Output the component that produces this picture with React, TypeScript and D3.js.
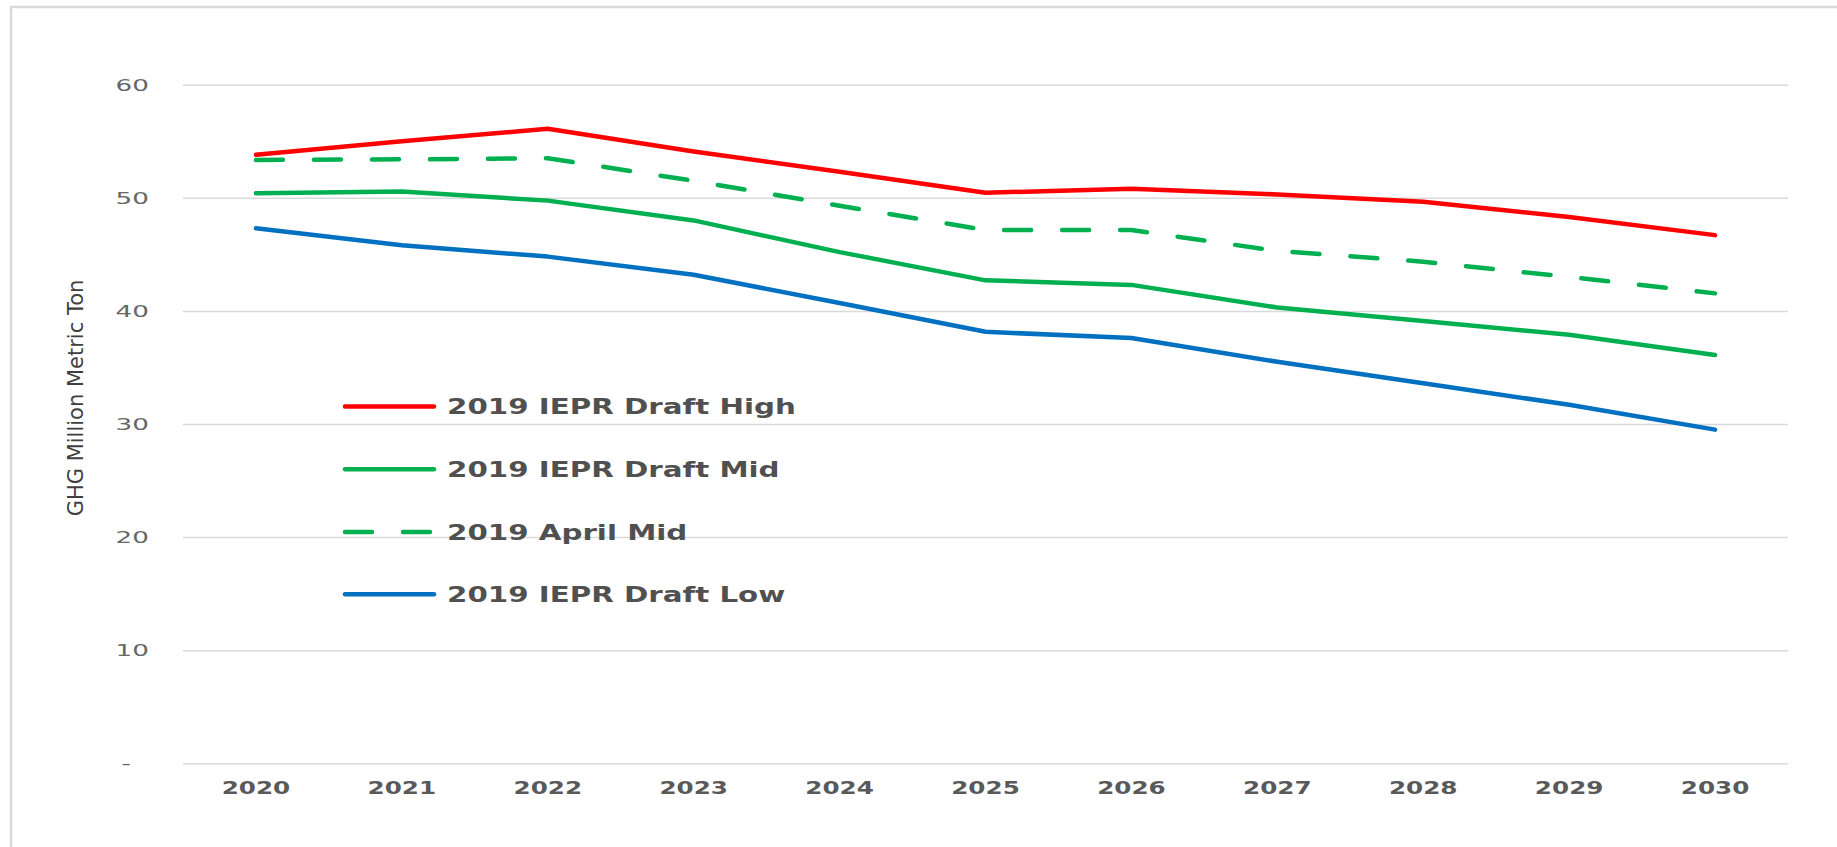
import React, { useEffect, useRef } from 'react';
import * as d3 from 'd3';

const years = ['2020', '2021', '2022', '2023', '2024', '2025', '2026', '2027', '2028', '2029', '2030'];
const draftHigh = [53.8, 55.0, 56.1, 54.1, 52.3, 50.45, 50.8, 50.3, 49.65, 48.3, 46.7];
const draftMid = [50.4, 50.55, 49.75, 48.0, 45.2, 42.7, 42.3, 40.3, 39.1, 37.9, 36.1];
const aprilMid = [53.35, 53.4, 53.5, 51.5, 49.3, 47.15, 47.15, 45.3, 44.35, 43.0, 41.55];
const draftLow = [47.3, 45.8, 44.8, 43.2, 40.7, 38.15, 37.6, 35.5, 33.6, 31.7, 29.5];
const yTicks = [0, 10, 20, 30, 40, 50, 60];
const legendLabels = ['2019 IEPR Draft High', '2019 IEPR Draft Mid', '2019 April Mid', '2019 IEPR Draft Low'];

const W = 1837;
const H = 847;
const margin = { top: 84.7, right: 49, bottom: 83.7, left: 183 };
const font = '"DejaVu Sans", Verdana, sans-serif';

const App = () => {
  const svgRef = useRef<SVGSVGElement | null>(null);

  useEffect(() => {
    const svg = d3.select(svgRef.current);
    svg.selectAll('*').remove();

    const innerWidth = W - margin.left - margin.right;
    const innerHeight = H - margin.top - margin.bottom;

    const x = d3.scaleBand<string>().domain(years).range([0, innerWidth]);
    const y = d3.scaleLinear().domain([0, 60]).range([innerHeight, 0]);

    // chart area border (only left/top visible in the crop)
    svg.append('rect')
      .attr('x', 11).attr('y', 7)
      .attr('width', W + 20).attr('height', H + 20)
      .attr('fill', 'white')
      .attr('stroke', '#d9d9d9')
      .attr('stroke-width', 2.5);

    const g = svg.append('g')
      .attr('transform', `translate(${margin.left},${margin.top})`);

    // gridlines + y labels
    const yAxis = d3.axisLeft(y)
      .tickValues(yTicks)
      .tickSize(-innerWidth)
      .tickFormat(d => (d === 0 ? '-' : String(d)));
    const ya = g.append('g').call(yAxis);
    ya.select('.domain').remove();
    ya.selectAll('line').attr('stroke', '#d9d9d9').attr('stroke-width', 1.5);
    ya.selectAll<SVGTextElement, number>('text')
      .attr('x', null)
      .attr('dy', null)
      .attr('fill', '#666666')
      .style('font-family', font)
      .style('font-size', '15px')
      .attr('text-anchor', 'end')
      .attr('transform', d => `translate(${d === 0 ? -52 : -34},5.5) scale(1.75,1)`);

    // x labels
    const xAxis = d3.axisBottom(x).tickSize(0);
    const xa = g.append('g')
      .attr('transform', `translate(0,${innerHeight})`)
      .call(xAxis);
    xa.select('.domain').remove();
    xa.selectAll('text')
      .attr('y', null)
      .attr('dy', null)
      .attr('fill', '#595959')
      .style('font-family', font)
      .style('font-size', '17px')
      .style('font-weight', 'bold')
      .attr('transform', 'translate(0,31) scale(1.45,1)');

    const line = d3.line<number>()
      .x((d, i) => (x(years[i]) as number) + x.bandwidth() / 2)
      .y(d => y(d));

    const series = [
      { name: legendLabels[0], values: draftHigh, color: '#ff0000', dash: null },
      { name: legendLabels[1], values: draftMid, color: '#00b050', dash: null },
      { name: legendLabels[2], values: aprilMid, color: '#00b050', dash: '27 31' },
      { name: legendLabels[3], values: draftLow, color: '#0070c0', dash: null },
    ];

    series.forEach(s => {
      g.append('path')
        .datum(s.values)
        .attr('d', line)
        .attr('fill', 'none')
        .attr('stroke', s.color)
        .attr('stroke-width', 4.5)
        .attr('stroke-linejoin', 'round')
        .attr('stroke-linecap', 'round')
        .attr('stroke-dasharray', s.dash);
    });

    // legend
    const legendRows = [406.5, 469.3, 532, 594.2];
    series.forEach((s, i) => {
      const ly = legendRows[i];
      svg.append('line')
        .attr('x1', 345).attr('x2', 434)
        .attr('y1', ly).attr('y2', ly)
        .attr('stroke', s.color)
        .attr('stroke-width', 4.5)
        .attr('stroke-linecap', 'round')
        .attr('stroke-dasharray', s.dash ? '27 31' : null);
      svg.append('text')
        .attr('transform', `translate(447,${ly + 7.5}) scale(1.43,1)`)
        .attr('fill', '#505050')
        .style('font-family', font)
        .style('font-size', '20.5px')
        .style('font-weight', 'bold')
        .text(s.name);
    });

    // y axis title
    svg.append('text')
      .attr('transform', 'translate(76,398) rotate(-90)')
      .attr('text-anchor', 'middle')
      .attr('dominant-baseline', 'central')
      .attr('fill', '#404040')
      .style('font-family', font)
      .style('font-size', '21px')
      .text('GHG Million Metric Ton');
  }, []);

  return (
    <div style={{ position: 'absolute', left: 0, top: 0, width: W, height: H, overflow: 'hidden', background: 'white' }}>
      <svg ref={svgRef} width={W} height={H} style={{ display: 'block' }}></svg>
    </div>
  );
};

export default App;
